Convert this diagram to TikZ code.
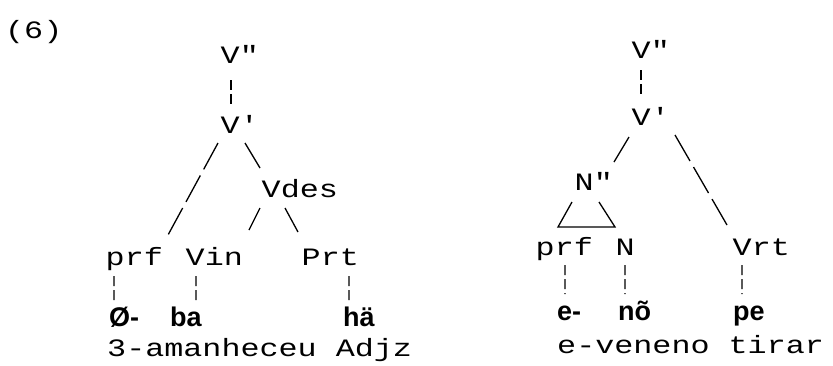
\documentclass[tikz,border=0pt]{standalone}
\usepackage{fontspec}
\newfontfamily\monof{Liberation Mono}[FakeStretch=1.27]
\newfontfamily\boldf{Liberation Sans Bold}
\begin{document}
\begin{tikzpicture}[x=1bp,y=-1bp,
  lab/.style={font=\monof\fontsize{25bp}{30bp}\selectfont, inner sep=0pt, anchor=base west, text height=17bp, text depth=0pt},
  bw/.style={font=\boldf\fontsize{27bp}{32bp}\selectfont, inner sep=0pt, anchor=base west, text height=19bp, text depth=0pt},
  gl/.style={font=\monof\fontsize{25bp}{30bp}\selectfont, inner sep=0pt, anchor=base west},
  vd/.style={line width=1.3bp, dash pattern=on 10bp off 4bp},
  br/.style={line width=1.3bp, dash pattern=on 30bp off 7bp},
  sb/.style={line width=1.3bp}]
\fill[white] (0,0) rectangle (833,365);
\useasboundingbox (0,0) rectangle (833,365);

\node[gl] (num) at (5,38) {(6)};

% ---------- left tree ----------
\node[lab] (Vbb1) at (220.5,63) {V\textquotedbl};
\node[lab] (Vb1) at (220.5,133) {V\textquotesingle};
\node[lab] (Vdes1) at (261.5,197) {Vdes};
\node[lab] (prf1) at (105.5,265) {prf};
\node[lab] (vin1) at (185.5,265) {Vin};
\node[lab] (prt1) at (301.5,265) {Prt};
\node[bw] (phi) at (109,326) {Ø-};
\node[bw] (ba) at (170,326) {ba};
\node[bw] (ha) at (343,326) {hä};
\node[gl] (gloss1) at (107,356) {3-amanheceu Adjz};

\draw[vd] ([shift={(10.5,17)}]Vbb1.base west) -- ([shift={(10.5,-29)}]Vb1.base west);
\draw[br] ([shift={(-2.5,10)}]Vb1.base west) -- ([shift={(62.5,-30)}]prf1.base west);
\draw[sb] ([shift={(24.5,10)}]Vb1.base west) -- ([shift={(-1.5,-29)}]Vdes1.base west);
\draw[sb] ([shift={(-1.5,11)}]Vdes1.base west) -- ([shift={(63.5,-35)}]vin1.base west);
\draw[sb] ([shift={(23.5,11)}]Vdes1.base west) -- ([shift={(-3.5,-33)}]prt1.base west);
\draw[vd] ([shift={(8.5,11)}]prf1.base west) -- ([shift={(5,-25)}]phi.base west);
\draw[vd] ([shift={(10.5,11)}]vin1.base west) -- ([shift={(26,-25)}]ba.base west);
\draw[vd] ([shift={(47.5,11)}]prt1.base west) -- ([shift={(6,-25)}]ha.base west);

% ---------- right tree ----------
\node[lab] (Vbb2) at (631.5,58) {V\textquotedbl};
\node[lab] (Vb2) at (631.5,125) {V\textquotesingle};
\node[lab] (Nbb) at (574.5,190) {N\textquotedbl};
\node[lab] (prf2) at (535.5,255) {prf};
\node[lab] (n2) at (615.5,255) {N};
\node[lab] (vrt) at (732.5,255) {Vrt};
\node[bw] (e2) at (557,320) {e-};
\node[bw] (no2) at (618,320) {nõ};
\node[bw] (pe2) at (733,320) {pe};
\node[gl] (gloss2) at (557,353) {e-veneno tirar};

\draw[vd] ([shift={(9.5,12)}]Vbb2.base west) -- ([shift={(9.5,-28)}]Vb2.base west);
\draw[sb] ([shift={(-2.5,12)}]Vb2.base west) -- ([shift={(39.5,-28)}]Nbb.base west);
\draw[br] ([shift={(43.5,10)}]Vb2.base west) -- ([shift={(-5.5,-30)}]vrt.base west);
\draw[sb] ([shift={(-2.5,12)}]Nbb.base west) -- ([shift={(-16.5,37)}]Nbb.base west)
   -- ([shift={(40.5,37)}]Nbb.base west) -- ([shift={(24.5,12)}]Nbb.base west);
\draw[vd] ([shift={(29.5,10)}]prf2.base west) -- ([shift={(8,-26)}]e2.base west);
\draw[vd] ([shift={(9.5,10)}]n2.base west) -- ([shift={(7,-26)}]no2.base west);
\draw[vd] ([shift={(9.5,10)}]vrt.base west) -- ([shift={(9,-26)}]pe2.base west);
\end{tikzpicture}
\end{document}
